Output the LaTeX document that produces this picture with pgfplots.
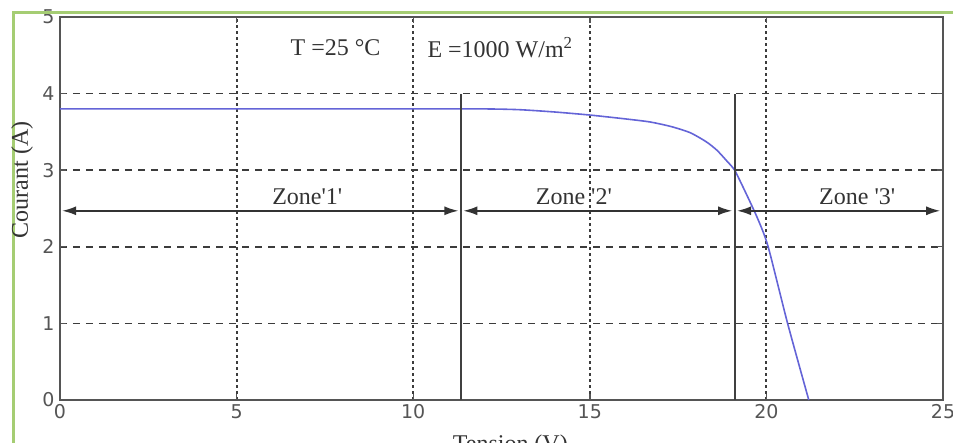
\documentclass[border=0pt]{standalone}
\usepackage{pgfplots}
\pgfplotsset{compat=1.18}
\usepackage{fontspec}
\setmainfont{Liberation Serif}
\newfontfamily\tickfont{DejaVu Sans}
\usetikzlibrary{arrows.meta}
\definecolor{curveblue}{RGB}{100,100,215}
\definecolor{axgray}{RGB}{85,85,85}
\definecolor{gridgray}{RGB}{60,60,60}
\definecolor{framegreen}{RGB}{165,205,115}
\newcommand{\q}{\textquotesingle}
\begin{document}
\begin{tikzpicture}
\useasboundingbox (-60pt,-43pt) rectangle (893pt,400pt);
\begin{axis}[
  anchor=south west, at={(0pt,0pt)},
  scale only axis, width=883pt, height=383pt,
  xmin=0, xmax=25, ymin=0, ymax=5,
  xtick={0,5,10,15,20,25}, ytick={0,1,2,3,4,5},
  tick align=inside, major tick length=6pt,
  axis line style={axgray, line width=2pt},
  every tick/.style={axgray, line width=1.4pt},
  xmajorgrids, ymajorgrids,
  x grid style={gridgray, line width=2pt, dash pattern=on 2.5pt off 3.5pt},
  y grid style={gridgray, line width=1.7pt, dash pattern=on 7pt off 6pt},
  ticklabel style={font=\tickfont\fontsize{19}{20}\selectfont, text=axgray},
  yticklabel style={xshift=-2pt},
  xticklabel style={yshift=-1pt},
  /pgf/number format/assume math mode=true,
  xlabel={Tension (V)}, ylabel={Courant (A)},
  label style={font=\fontsize{24}{26}\selectfont, text=black!80},
  xlabel style={at={(axis description cs:0.51,-0.12)}, anchor=center},
  ylabel style={at={(axis description cs:-0.043,0.575)}, anchor=center},
  clip=false,
]
\addplot[curveblue, line width=1.6pt, smooth, tension=0.4] coordinates {
(0,3.80) (5,3.80) (10,3.80) (12,3.80) (13,3.79) (14,3.76) (15,3.72) (16,3.67)
(16.7,3.63) (17.3,3.57) (17.84,3.49) (18.3,3.37) (18.6,3.26) (18.9,3.11)
(19.1,3.00) (19.4,2.72) (19.76,2.36) (20.05,2.00) (20.6,1.00) (21.2,0.00)
};
\draw[black!75, line width=1.8pt] (axis cs:11.35,0) -- (axis cs:11.35,4);
\draw[black!75, line width=1.8pt] (axis cs:19.1,0) -- (axis cs:19.1,4);
\draw[black!80, line width=1.6pt, {Latex[length=14pt,width=9pt]}-{Latex[length=14pt,width=9pt]}] (axis cs:0.06,2.47) -- (axis cs:11.28,2.47);
\draw[black!80, line width=1.6pt, {Latex[length=14pt,width=9pt]}-{Latex[length=14pt,width=9pt]}] (axis cs:11.42,2.47) -- (axis cs:19.03,2.47);
\draw[black!80, line width=1.6pt, {Latex[length=14pt,width=9pt]}-{Latex[length=14pt,width=9pt]}] (axis cs:19.17,2.47) -- (axis cs:24.92,2.47);
\node[font=\fontsize{24}{26}\selectfont, text=black!80] at (axis cs:7.0,2.66) {Zone\q1\q};
\node[font=\fontsize{24}{26}\selectfont, text=black!80] at (axis cs:14.55,2.66) {Zone \q2\q};
\node[font=\fontsize{24}{26}\selectfont, text=black!80] at (axis cs:22.57,2.66) {Zone \q3\q};
\node[font=\fontsize{24}{26}\selectfont, text=black!80] at (axis cs:7.8,4.6) {T =25 °C};
\node[font=\fontsize{24}{26}\selectfont, text=black!80] at (axis cs:12.46,4.6) {E =1000 W/m\textsuperscript{2}};
\draw[framegreen, line width=3pt] (axis cs:-1.33,-1) -- (axis cs:-1.33,5.065) -- (axis cs:27,5.065);
\end{axis}
\end{tikzpicture}
\end{document}
